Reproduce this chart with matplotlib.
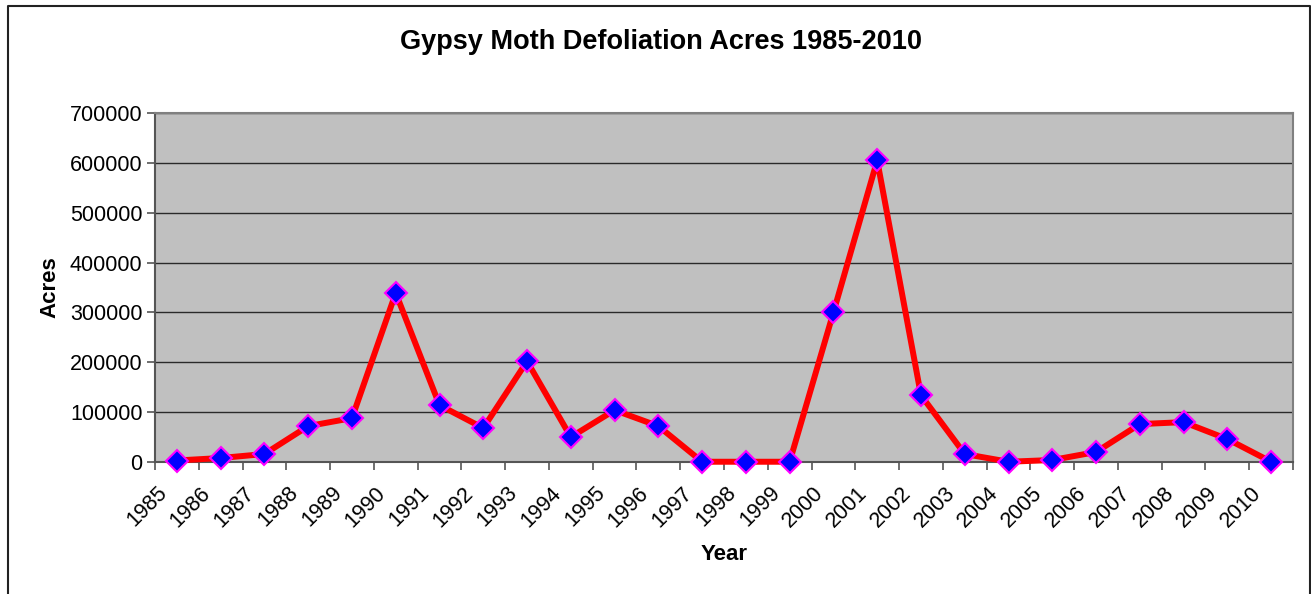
import matplotlib
matplotlib.use("Agg")
import matplotlib.pyplot as plt
import matplotlib.transforms as mtransforms
from matplotlib.lines import Line2D

plt.rcParams['font.family'] = ['Liberation Sans', 'DejaVu Sans']

years = [str(y) for y in range(1985, 2011)]
acres = [3000, 8000, 16000, 72000, 88000, 339000, 114000, 68000, 202000, 50000,
         104000, 72000, 500, 500, 500, 300000, 605000, 134000, 16000, 500,
         4000, 20000, 76000, 80000, 46000, 500]
yticks = [0, 100000, 200000, 300000, 400000, 500000, 600000, 700000]

W, H = 1311, 594
fig = plt.figure(figsize=(W / 100, H / 100), dpi=100)
ax = fig.add_axes([155 / W, (H - 462) / H, (1293 - 155) / W, (462 - 113) / H])
ax.set_facecolor('#C0C0C0')

x = list(range(len(years)))
ax.plot(x, acres, color='red', lw=4.3, marker='D', ms=11,
        mfc='blue', mec='#FF00FF', mew=1.5, zorder=3, clip_on=False)

ax.set_xlim(-0.5, len(years) - 0.5)
ax.set_ylim(0, 700000)
ax.set_yticks(yticks)
ax.set_yticklabels([str(v) for v in yticks], fontsize=15.5)
ax.yaxis.grid(True, color='#2a2a2a', lw=1)
ax.set_axisbelow(True)

# category labels, rotated, drawn under each category
ax.set_xticks(x)
ax.set_xticklabels([])
ax.tick_params(axis='x', which='major', length=0)
lab_tr = ax.get_xaxis_transform() + mtransforms.ScaledTranslation(
    -13 / 100, -28 / 100, fig.dpi_scale_trans)
for xi, yr in zip(x, years):
    ax.text(xi, 0, yr, transform=lab_tr, fontsize=15.5, rotation=45,
            ha='right', va='center', rotation_mode='anchor', clip_on=False)

ax.set_xticks([i - 0.5 for i in range(len(years) + 1)], minor=True)
ax.tick_params(axis='x', which='minor', length=6, color='#555555', width=1.2)
ax.tick_params(axis='y', length=6, color='#555555', width=1.2, pad=3)

for s in ax.spines.values():
    s.set_color('#808080')
    s.set_linewidth(1.5)
ax.spines['left'].set_color('#555555')
ax.spines['bottom'].set_color('#555555')

ax.set_ylabel('Acres', fontsize=16, fontweight='bold', labelpad=7)
fig.text(724 / W, 1 - 555 / H, 'Year', fontsize=16, fontweight='bold',
         ha='center', va='center')
fig.text(661 / W, 1 - 42 / H, 'Gypsy Moth Defoliation Acres 1985-2010',
         fontsize=19.5, fontweight='bold', ha='center', va='center')

# chart area border
bx0, bx1, by = 7.5 / W, 1309.5 / W, 1 - 5.5 / H
fig.add_artist(Line2D([bx0, bx0, bx1, bx1], [0, by, by, 0],
                      transform=fig.transFigure, color='#222222', lw=1.5))

fig.savefig('out.png', dpi=100, facecolor='white')
